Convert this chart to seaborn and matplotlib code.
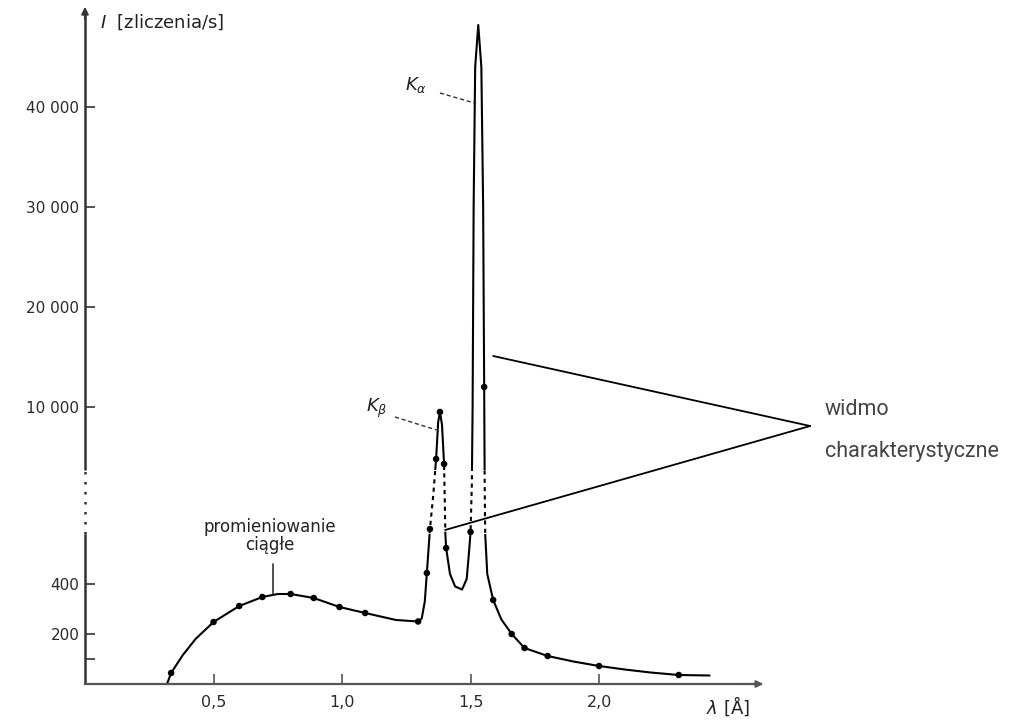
import numpy as np
import matplotlib
matplotlib.use("Agg")
import matplotlib.pyplot as plt
from matplotlib.patches import Rectangle
import seaborn as sns

# --- data ---
curve_wl = [0.319, 0.335, 0.38, 0.43, 0.50, 0.60, 0.69, 0.75, 0.80, 0.89, 0.99, 1.09,
            1.21, 1.296, 1.31, 1.322, 1.33, 1.342, 1.355, 1.366, 1.374, 1.381, 1.389,
            1.397, 1.400, 1.402, 1.405, 1.42, 1.44, 1.467, 1.485, 1.495, 1.50, 1.505,
            1.508, 1.512, 1.518, 1.530, 1.542, 1.549, 1.553, 1.555, 1.557, 1.565,
            1.588, 1.62, 1.66, 1.71, 1.80, 1.90, 2.00, 2.10, 2.20, 2.31, 2.43]
curve_int = [0, 44, 115, 180, 248, 312, 348, 360, 360, 344, 308, 284,
             256, 250, 262, 330, 444, 840, 2500, 4800, 8500, 9500, 8200,
             4300, 2000, 600, 544, 440, 390, 378, 420, 540, 700, 3000,
             10000, 30000, 44000, 48200, 44000, 30000, 12000, 3000, 600, 440,
             336, 258, 200, 144, 112, 90, 72, 58, 46, 36, 34]

dot_wl = [0.335, 0.50, 0.60, 0.69, 0.80, 0.89, 0.99, 1.09, 1.296, 1.33, 1.342, 1.366,
          1.381, 1.397, 1.405, 1.50, 1.553, 1.588, 1.66, 1.71, 1.80, 2.00, 2.31]
dot_int = [44, 248, 312, 348, 360, 344, 308, 284, 250, 444, 840, 4800,
           9500, 4300, 544, 700, 12000, 336, 200, 144, 112, 72, 36]

y_ticks = [200, 400, 10000, 20000, 30000, 40000]
y_ticklabels = ["200", "400", "10 000", "20 000", "30 000", "40 000"]
x_ticks = [0.5, 1.0, 1.5, 2.0]
x_ticklabels = ["0,5", "1,0", "1,5", "2,0"]

# broken intensity axis: 0-600 fine scale, 600-3700 gap, above that coarse scale
LOW_TOP = 600
HIGH_START = 3700
Y_MAX = 50000


def fwd(v):
    v = np.asarray(v, dtype=float)
    return np.where(v <= LOW_TOP, v * 0.25,
                    np.where(v < HIGH_START, 150 + (v - LOW_TOP) * 64 / 3100, 177 + v / 100))


def inv(h):
    h = np.asarray(h, dtype=float)
    return np.where(h <= 150, h * 4,
                    np.where(h < 214, LOW_TOP + (h - 150) * 3100 / 64, (h - 177) * 100))


sns.set_style("white")
plt.rcParams["font.family"] = ["DejaVu Sans"]
plt.rcParams["mathtext.fontset"] = "dejavusans"

fig = plt.figure(figsize=(10.24, 7.22), dpi=100)
ax = fig.add_axes([85 / 1024, 1 - 684 / 722, 676 / 1024, 677 / 722])
ax.set_yscale("function", functions=(fwd, inv))
ax.set_xlim(0, 2.63)
ax.set_ylim(0, Y_MAX)

# axes-fraction limits of the gap
f_lo = float(fwd(LOW_TOP) / fwd(Y_MAX))
f_hi = float(fwd(HIGH_START) / fwd(Y_MAX))

clips = [((0, 0), f_lo, "-"), ((0, f_hi), 1 - f_hi, "-"), ((0, f_lo), f_hi - f_lo, (0, (2, 2)))]
for (x0, y0), h, ls in clips:
    n_before = len(ax.lines)
    sns.lineplot(x=curve_wl, y=curve_int, ax=ax, color="black", lw=1.5,
                 linestyle=ls, estimator=None, sort=False)
    for ln in ax.lines[n_before:]:
        ln.set_clip_path(Rectangle((x0, y0), 1, h, transform=ax.transAxes))

sns.scatterplot(x=dot_wl, y=dot_int, ax=ax, color="black", s=22, edgecolor="none", zorder=3)

# axes
for side in ["left", "top", "right"]:
    ax.spines[side].set_visible(False)
ax.spines["bottom"].set_color("#555555")
ax.spines["bottom"].set_linewidth(1.6)
ax.vlines(0, 0, LOW_TOP, color="#333333", lw=1.8, clip_on=False)
ax.vlines(0, LOW_TOP, HIGH_START, color="#333333", lw=1.8, linestyles=(0, (1, 3)), clip_on=False)
ax.vlines(0, HIGH_START, Y_MAX - 800, color="#333333", lw=1.8, clip_on=False)
ax.annotate("", xy=(0, Y_MAX + 300), xytext=(0, Y_MAX - 1500),
            arrowprops=dict(arrowstyle="-|>", color="#333333", lw=1.5), annotation_clip=False)
ax.annotate("", xy=(2.65, 0), xytext=(2.55, 0),
            arrowprops=dict(arrowstyle="-|>", color="#555555", lw=1.5), annotation_clip=False)

ax.set_yticks(y_ticks)
ax.set_yticklabels(y_ticklabels)
ax.set_yticks([100], minor=True)
ax.set_xticks(x_ticks)
ax.set_xticklabels(x_ticklabels)
ax.tick_params(axis="y", which="both", direction="in", length=7, width=1.2,
               color="#333333", labelsize=11, labelcolor="#2a2a2a", pad=4, left=True)
ax.tick_params(axis="x", direction="in", length=7, width=1.2, color="#555555",
               labelsize=11.5, labelcolor="#2a2a2a", pad=8, bottom=True)

fig.text(100 / 1024, 1 - 22 / 722, r"$I$  [zliczenia/s]", fontsize=13, color="#222222",
         va="center", ha="left")
fig.text(706 / 1024, 1 - 706 / 722, r"$\lambda$ [Å]", fontsize=13, color="#222222",
         va="center", ha="left")

# peak labels
ax.text(1.288, 42200, r"$K_\alpha$", fontsize=13, color="#222222", ha="center", va="center")
ax.plot([1.381, 1.515], [41400, 40400], color="#333333", lw=1, linestyle=(0, (3, 2)))
ax.text(1.136, 9900, r"$K_\beta$", fontsize=13, color="#222222", ha="center", va="center")
ax.plot([1.206, 1.368], [9000, 7700], color="#333333", lw=1, linestyle=(0, (3, 2)))

# continuous radiation label
ax.text(0.72, 520, "promieniowanie\nciągłe", fontsize=12, color="#222222",
        ha="center", va="bottom", linespacing=1.0)
ax.plot([0.732, 0.732], [362, 480], color="#333333", lw=1.2)

# characteristic spectrum bracket
ax.plot([1.588, 2.821], [15100, 8100], color="black", lw=1.3, clip_on=False)
ax.plot([1.401, 2.821], [794, 8100], color="black", lw=1.3, clip_on=False)
ax.text(2.879, 9700, "widmo", fontsize=15.5, color="#444444", ha="left", va="center",
        family="Roboto")
ax.text(2.879, 5500, "charakterystyczne", fontsize=15.5, color="#444444", ha="left",
        va="center", family="Roboto")

fig.savefig("out.png", dpi=100)
